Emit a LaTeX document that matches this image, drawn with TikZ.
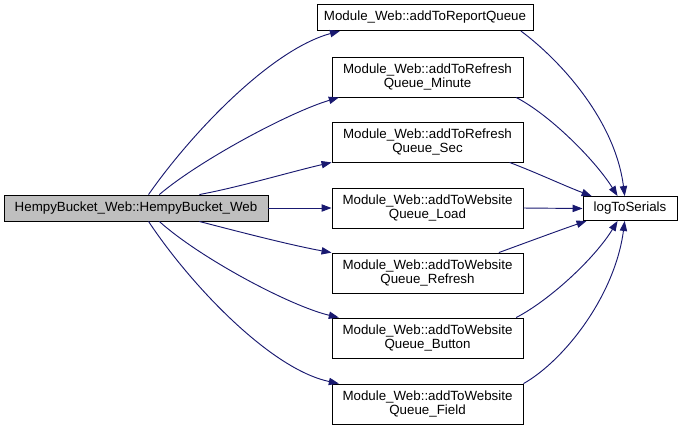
\documentclass[tikz,border=0pt]{standalone}
\usepackage{fontspec}
\setmainfont{Liberation Sans}
\usetikzlibrary{arrows.meta}
\definecolor{edgeblue}{HTML}{191970}
\definecolor{callergray}{HTML}{BFBFBF}
\tikzset{
  fn/.style={draw=black, fill=white, line width=0.7pt, inner sep=0pt, align=center,
    minimum width=143.25pt, minimum height=30pt, font=\fontsize{10}{10.5}\selectfont},
  call/.style={draw=edgeblue, line width=0.7pt}
}

\begin{document}
\begin{tikzpicture}[>={Triangle[length=7.5pt,width=5.5pt]}, x=0.75pt, y=-0.75pt]
  \useasboundingbox (0,0) rectangle (684,430);
  % Caller.
  \node[fn, fill=callergray, minimum width=198pt, minimum height=19.5pt] (hb) at (136,208) {HempyBucket\_Web::HempyBucket\_Web};
  % Callees in the middle column.
  \node[fn, minimum width=162pt, minimum height=19.5pt] (rq) at (425,17.5) {Module\_Web::addToReportQueue};
  \node[fn] (mi) at (427.5,77) {Module\_Web::addToRefresh\\Queue\_Minute};
  \node[fn] (se) at (427.5,142) {Module\_Web::addToRefresh\\Queue\_Sec};
  \node[fn] (ld) at (427.5,208) {Module\_Web::addToWebsite\\Queue\_Load};
  \node[fn] (rf) at (427.5,273) {Module\_Web::addToWebsite\\Queue\_Refresh};
  \node[fn] (bu) at (427.5,338) {Module\_Web::addToWebsite\\Queue\_Button};
  \node[fn] (fi) at (427.5,404) {Module\_Web::addToWebsite\\Queue\_Field};
  % Common callee.
  \node[fn, minimum width=70.5pt, minimum height=18pt] (ls) at (630,208.5) {logToSerials};
  % Calls from the caller.
  \draw[call, ->] (hb.47) .. controls (190,135) and (270,50) .. (rq.189);
  \draw[call, ->] (hb.30) .. controls (200,160) and (290,112) .. (mi.193);
  \draw[call, ->] (hb.12.5) .. controls (240,187) and (290,172) .. (se.192);
  \draw[call, ->] (hb.east) -- (ld.west);
  \draw[call, ->] (hb.-12.5) .. controls (240,232) and (290,245) .. (rf.168);
  \draw[call, ->] (hb.-30) .. controls (200,258) and (290,306) .. (bu.167);
  \draw[call, ->] (hb.-47) .. controls (190,284) and (270,369) .. (fi.167);
  % Calls to logToSerials.
  \draw[call, ->] (rq.352) .. controls (560,60) and (615,120) .. (ls.113);
  \draw[call, ->] (mi.-13) .. controls (550,115) and (595,160) .. (ls.135);
  \draw[call, ->] (se.-14) .. controls (535,172) and (565,186) .. (ls.162);
  \draw[call, ->] (ld.east) -- (ls.west);
  \draw[call, ->] (rf.16) .. controls (525,243) and (560,230) .. (ls.196);
  \draw[call, ->] (bu.13) .. controls (550,300) and (595,258) .. (ls.225);
  \draw[call, ->] (fi.12) .. controls (565,360) and (615,295) .. (ls.247);
\end{tikzpicture}
\end{document}
